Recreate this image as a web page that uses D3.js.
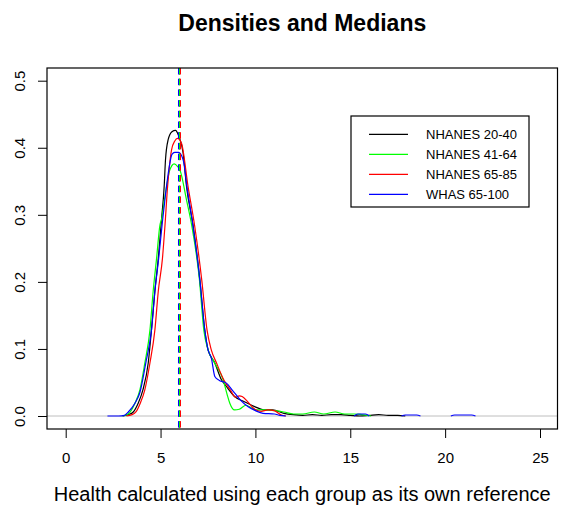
<!DOCTYPE html>
<html>
<head>
<meta charset="utf-8">
<script src="https://cdn.jsdelivr.net/npm/d3@7"></script>
<style>
  body { margin: 0; background: #fff; }
  text { font-family: "Liberation Sans", Arial, sans-serif; }
</style>
</head>
<body>
<script>
// series (x = health score, d = density), null = gap
var groups = ["NHANES 20-40", "NHANES 41-64", "NHANES 65-85", "WHAS 65-100"];
var colors = ["black", "#00ff00", "red", "blue"];

var blackX = [3.0, 3.3, 3.56, 3.82, 4.07, 4.35, 4.52, 4.7, 4.88, 5.05, 5.19, 5.26, 5.4, 5.6, 5.79, 5.95, 6.19, 6.37, 6.72, 7.07, 7.33, 7.5, 7.86, 8.21, 8.47, 8.9, 9.44, 9.96, 10.5, 10.9, 11.5, 12.0, 12.5, 13.0, 13.5, 14.0, 14.5, 15.0, 15.5, 16.0, 16.5, 17.0, 17.5, 17.9];
var blackD = [0, 0.002, 0.006, 0.019, 0.039, 0.079, 0.128, 0.186, 0.235, 0.293, 0.342, 0.382, 0.412, 0.424, 0.426, 0.418, 0.392, 0.342, 0.283, 0.203, 0.128, 0.099, 0.079, 0.054, 0.044, 0.029, 0.021, 0.014, 0.009, 0.009, 0.004, 0.002, 0.001, 0.002, 0.001, 0.002, 0.002, 0.001, 0.0, 0.001, 0.002, 0.001, 0.001, 0];

var greenX = [3.0, 3.3, 3.65, 3.91, 4.17, 4.44, 4.61, 4.79, 4.97, 5.05, 5.23, 5.49, 5.72, 5.9, 6.02, 6.37, 6.65, 7.05, 7.28, 7.5, 7.85, 8.3, 8.5, 8.65, 8.9, 9.15, 9.5, 9.8, 10.1, 10.5, 11.0, 11.5, 12.0, 12.5, 13.1, 13.6, 14.2, 14.7, 15.2, 15.6, 16.1];
var greenD = [0, 0.003, 0.019, 0.039, 0.079, 0.128, 0.186, 0.235, 0.285, 0.293, 0.327, 0.367, 0.376, 0.372, 0.367, 0.322, 0.283, 0.203, 0.128, 0.099, 0.079, 0.054, 0.033, 0.019, 0.009, 0.010, 0.016, 0.012, 0.009, 0.009, 0.008, 0.006, 0.003, 0.003, 0.006, 0.003, 0.006, 0.003, 0.003, 0.002, 0];

var redX = [3.2, 3.5, 3.7, 3.93, 4.17, 4.44, 4.7, 4.88, 5.1, 5.23, 5.37, 5.58, 5.75, 5.89, 6.1, 6.45, 6.8, 7.17, 7.45, 7.67, 7.95, 8.33, 8.7, 8.95, 9.15, 9.3, 9.6, 9.96, 10.3, 10.66, 10.99, 11.37, 11.6];
var redD = [0, 0.002, 0.006, 0.019, 0.039, 0.079, 0.128, 0.186, 0.235, 0.283, 0.342, 0.397, 0.41, 0.414, 0.407, 0.342, 0.283, 0.203, 0.128, 0.099, 0.079, 0.054, 0.038, 0.028, 0.030, 0.029, 0.021, 0.010, 0.007, 0.009, 0.008, 0.0015, 0];

var blueX = [2.2, 2.8, 3.1, 3.3, 3.65, 3.91, 4.22, 4.52, 4.7, 4.9, 5.1, 5.26, 5.45, 5.6, 5.75, 5.95, 6.19, 6.4, 6.7, 7.07, 7.33, 7.5, 7.68, 7.86, 8.1, 8.47, 8.8, 9.2, 9.6, 10.0, 10.4, 11.0, 11.3, 11.6, 13.0, 15.2, 15.4, 15.8, 16.0, 17.0, 17.7, 17.9, 18.5, 18.7, 19.5, 20.3, 20.5, 21.4, 21.6];
var blueD = [0, 0, 0.001, 0.006, 0.019, 0.035, 0.079, 0.128, 0.186, 0.235, 0.29, 0.33, 0.37, 0.39, 0.393, 0.393, 0.382, 0.34, 0.285, 0.203, 0.128, 0.099, 0.086, 0.059, 0.053, 0.049, 0.038, 0.024, 0.014, 0.008, 0.004, 0.003, 0.001, 0, null, 0, 0.003, 0.003, 0, null, 0, 0.0015, 0.0015, 0, null, 0, 0.0015, 0.0015, 0];

var medians = [5.998, 5.998, 6.051, 5.945];

var xTicks = [0, 5, 10, 15, 20, 25];
var yTicks = [0.0, 0.1, 0.2, 0.3, 0.4, 0.5];

var width = 564, height = 517;
var box = {left: 47, right: 557.5, top: 68, bottom: 429};

var x = d3.scaleLinear().domain([0, 25]).range([65.7, 540]);
var y = d3.scaleLinear().domain([0, 0.5]).range([416, 80.7]);

var svg = d3.select("body")
            .append("svg")
            .attr("width", width)
            .attr("height", height);

svg.append("defs").append("clipPath")
    .attr("id", "clip")
  .append("rect")
    .attr("x", box.left)
    .attr("y", box.top)
    .attr("width", box.right - box.left)
    .attr("height", box.bottom - box.top);

// title
svg.append("text")
    .attr("x", (box.left + box.right) / 2)
    .attr("y", 31)
    .attr("text-anchor", "middle")
    .style("font-size", "23px")
    .style("font-weight", "bold")
    .text("Densities and Medians");

// x axis
var xAxis = svg.append("g")
    .attr("transform", "translate(0," + box.bottom + ")")
    .call(d3.axisBottom(x).tickValues(xTicks).tickSize(9).tickPadding(14).tickFormat(d3.format("d")));
xAxis.select(".domain").remove();
xAxis.selectAll("text").style("font-size", "15px").style("fill", "#000")
    .style("font-family", "'Liberation Sans', Arial, sans-serif");

// y axis, labels rotated like R
var yAxis = svg.append("g")
    .attr("transform", "translate(" + box.left + ",0)")
    .call(d3.axisLeft(y).tickValues(yTicks).tickSize(9).tickFormat(d3.format(".1f")));
yAxis.select(".domain").remove();
yAxis.selectAll("text").remove();
yAxis.selectAll(".tick").append("text")
    .attr("transform", "translate(-27,0) rotate(-90)")
    .attr("text-anchor", "middle")
    .attr("dy", "0.35em")
    .style("font-size", "15px")
    .attr("fill", "#000")
    .text(function(d) { return d3.format(".1f")(d); });

svg.append("text")
    .attr("x", (box.left + box.right) / 2)
    .attr("y", 501)
    .attr("text-anchor", "middle")
    .style("font-size", "20px")
    .text("Health calculated using each group as its own reference");

var plot = svg.append("g").attr("clip-path", "url(#clip)");

// zero line
plot.append("line")
    .attr("x1", box.left).attr("x2", box.right)
    .attr("y1", y(0)).attr("y2", y(0))
    .attr("stroke", "#bebebe")
    .attr("stroke-width", 1);

var series = [[blackX, blackD], [greenX, greenD], [redX, redD], [blueX, blueD]];

var line = d3.line()
    .defined(function(p) { return p[1] !== null; })
    .x(function(p) { return x(p[0]); })
    .y(function(p) { return y(p[1]); })
    .curve(d3.curveMonotoneX);

series.forEach(function(s, i) {
    var pts = s[0].map(function(v, j) { return [v, s[1][j]]; });
    plot.append("path")
        .attr("d", line(pts))
        .attr("fill", "none")
        .attr("stroke", colors[i])
        .attr("stroke-width", 1.2);
});

// median lines
medians.forEach(function(m, i) {
    plot.append("line")
        .attr("x1", x(m)).attr("x2", x(m))
        .attr("y1", box.top).attr("y2", box.bottom)
        .attr("stroke", colors[i])
        .attr("stroke-width", 1)
        .attr("stroke-dasharray", "6.5,4.2");
});

// plot box
svg.append("rect")
    .attr("x", box.left).attr("y", box.top)
    .attr("width", box.right - box.left)
    .attr("height", box.bottom - box.top)
    .attr("fill", "none")
    .attr("stroke", "#000")
    .attr("stroke-width", 1.2);

// legend
var legend = svg.append("g");
legend.append("rect")
    .attr("x", 351).attr("y", 116)
    .attr("width", 178).attr("height", 91)
    .attr("fill", "#fff")
    .attr("stroke", "#000")
    .attr("stroke-width", 1.2);

var legendY = d3.scalePoint().domain(groups).range([134.3, 194.3]);

groups.forEach(function(g, i) {
    legend.append("line")
        .attr("x1", 369).attr("x2", 408)
        .attr("y1", legendY(g)).attr("y2", legendY(g))
        .attr("stroke", colors[i])
        .attr("stroke-width", 1.2);
    legend.append("text")
        .attr("x", 426)
        .attr("y", legendY(g))
        .attr("dy", "0.35em")
        .style("font-size", "13px")
        .text(g);
});
</script>
</body>
</html>
